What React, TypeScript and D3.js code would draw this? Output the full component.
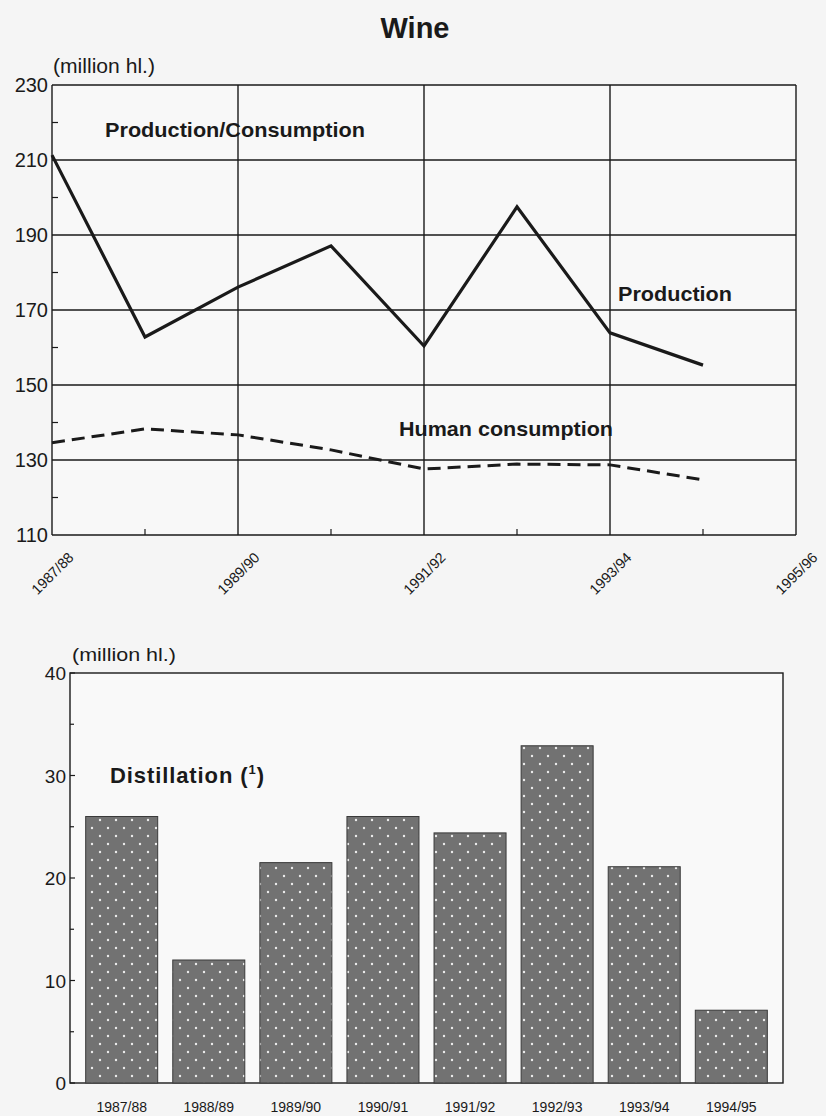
import React from "react";
import * as d3 from "d3";

const years = ["1987/88", "1988/89", "1989/90", "1990/91", "1991/92", "1992/93", "1993/94", "1994/95", "1995/96"];
const production = [211.3, 162.8, 176.1, 187.1, 160.4, 197.5, 163.9, 155.3];
const consumption = [134.6, 138.3, 136.7, 132.7, 127.6, 128.9, 128.7, 124.7];
const topYTicks = [110, 130, 150, 170, 190, 210, 230];
const topYMinor = [120, 140, 160, 180, 200, 220];

const barYears = ["1987/88", "1988/89", "1989/90", "1990/91", "1991/92", "1992/93", "1993/94", "1994/95"];
const distillation = [26.0, 12.0, 21.5, 26.0, 24.4, 32.9, 21.1, 7.1];
const botYTicks = [0, 10, 20, 30, 40];
const botYMinor = [5, 15, 25, 35];

const FONT = "'Liberation Sans', Arial, Helvetica, sans-serif";
const INK = "#1a1a1a";

export default function App() {
  // top chart
  const tL = 52, tR = 796, tT = 85, tB = 535;
  const x = d3.scaleLinear().domain([0, 8]).range([tL, tR]);
  const y = d3.scaleLinear().domain([110, 230]).range([tB, tT]);
  const line = d3.line<number>().x((_, i) => x(i)).y((d) => y(d));

  // bottom chart
  const bL = 70, bR = 783, bT = 673, bB = 1083;
  const xb = d3.scaleBand<string>().domain(barYears).range([bL, bR]).paddingInner(0.173).paddingOuter(0.18);
  const yb = d3.scaleLinear().domain([0, 40]).range([bB, bT]);

  return (
    <svg width={826} height={1116} style={{ position: "absolute", left: 0, top: 0, display: "block" }} fontFamily={FONT}>
      <defs>
        <pattern id="dots" width={16} height={16} patternUnits="userSpaceOnUse">
          <rect width={16} height={16} fill="#727272" />
          <circle cx={4} cy={4} r={1.2} fill="#ececec" />
          <circle cx={12} cy={12} r={1.2} fill="#ececec" />
        </pattern>
      </defs>
      <rect x={0} y={0} width={826} height={1116} fill="#f5f5f5" />

      {/* ===== Top chart ===== */}
      <text x={415} y={38} textAnchor="middle" fontSize={29} fontWeight="bold" fill={INK}>Wine</text>
      <text x={53} y={73} fontSize={20} fill={INK} textLength={102} lengthAdjust="spacingAndGlyphs">(million hl.)</text>

      <rect x={tL} y={tT} width={tR - tL} height={tB - tT} fill="#f8f8f8" />

      {topYTicks.map((t) => (
        <line key={"hg" + t} x1={tL} x2={tR} y1={y(t)} y2={y(t)} stroke={INK} strokeWidth={1.4} />
      ))}
      {years.map((yr, i) =>
        i % 2 === 0 ? (
          <line key={"vg" + yr} x1={x(i)} x2={x(i)} y1={tT} y2={tB} stroke={INK} strokeWidth={1.4} />
        ) : (
          <line key={"vm" + yr} x1={x(i)} x2={x(i)} y1={tB} y2={tB - 6} stroke={INK} strokeWidth={1.2} />
        )
      )}
      {topYMinor.map((t) => (
        <line key={"ym" + t} x1={tL} x2={tL + 6} y1={y(t)} y2={y(t)} stroke={INK} strokeWidth={1.2} />
      ))}

      {topYTicks.map((t) => (
        <text key={"yl" + t} x={48} y={y(t) + 7} textAnchor="end" fontSize={20} fill={INK}>{t}</text>
      ))}
      {years.map((yr, i) =>
        i % 2 === 0 ? (
          <text key={"xl" + yr} transform={`translate(${x(i) + 4},${tB + 42}) rotate(-45)`} textAnchor="middle" fontSize={14.5} fill={INK}>{yr}</text>
        ) : null
      )}

      <path d={line(consumption) || ""} fill="none" stroke={INK} strokeWidth={3} strokeDasharray="13,7" />
      <path d={line(production) || ""} fill="none" stroke={INK} strokeWidth={3.2} strokeLinejoin="miter" />

      <text x={105} y={137} fontSize={21} fontWeight="bold" fill={INK} textLength={260} lengthAdjust="spacingAndGlyphs">Production/Consumption</text>
      <text x={618} y={301} fontSize={21} fontWeight="bold" fill={INK} textLength={114} lengthAdjust="spacingAndGlyphs">Production</text>
      <text x={399} y={436} fontSize={21} fontWeight="bold" fill={INK} textLength={214} lengthAdjust="spacingAndGlyphs">Human consumption</text>

      {/* ===== Bottom chart ===== */}
      <text x={72} y={661} fontSize={19} fill={INK} textLength={104} lengthAdjust="spacingAndGlyphs">(million hl.)</text>
      <rect x={bL} y={bT} width={bR - bL} height={bB - bT} fill="#f9f9f9" />
      <rect x={bL} y={bT} width={bR - bL} height={bB - bT} fill="none" stroke={INK} strokeWidth={1.4} />

      {botYTicks.map((t) => (
        <g key={"by" + t}>
          <line x1={bL} x2={bL + 5} y1={yb(t)} y2={yb(t)} stroke={INK} strokeWidth={1.2} />
          <text x={66} y={yb(t) + 7} textAnchor="end" fontSize={19} fill={INK}>{t}</text>
        </g>
      ))}
      {botYMinor.map((t) => (
        <line key={"bm" + t} x1={bL} x2={bL + 4} y1={yb(t)} y2={yb(t)} stroke={INK} strokeWidth={1.2} />
      ))}

      {barYears.map((yr, i) => (
        <rect
          key={"bar" + yr}
          x={xb(yr)}
          y={yb(distillation[i])}
          width={xb.bandwidth()}
          height={yb(0) - yb(distillation[i])}
          fill="url(#dots)"
          stroke="#3a3a3a"
          strokeWidth={1}
        />
      ))}
      {barYears.map((yr) => (
        <text key={"bl" + yr} x={(xb(yr) || 0) + xb.bandwidth() / 2} y={1112} textAnchor="middle" fontSize={14} fill={INK}>{yr}</text>
      ))}

      <text x={110} y={783} fontSize={22} fontWeight="bold" fill={INK} letterSpacing={0.9}>
        Distillation (<tspan fontSize={13} dy={-9}>1</tspan><tspan dy={9}>)</tspan>
      </text>
    </svg>
  );
}
